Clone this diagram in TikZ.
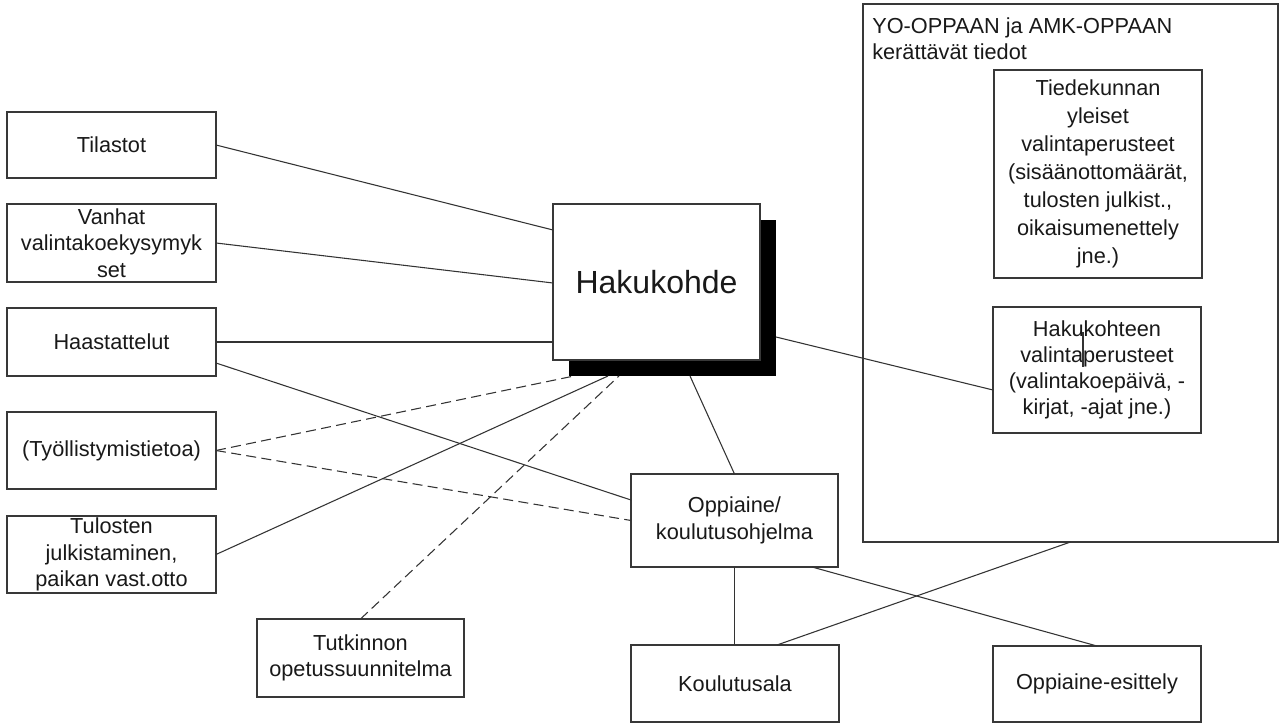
\documentclass[tikz,border=0pt]{standalone}
\usepackage{fontspec}
\setmainfont{Liberation Sans}
\usetikzlibrary{calc}
\begin{document}
\begin{tikzpicture}[x=0.75pt,y=-0.75pt,
  box/.style={draw=black!78, line width=1.1pt, fill=white, inner sep=0pt, outer sep=0pt,
    align=center, text=black!90, font=\fontsize{16.3}{20}\selectfont},
  wh/.style 2 args={minimum width=#1*0.75pt, minimum height=#2*0.75pt},
  conn/.style={draw=black!80, line width=0.8pt},
  dconn/.style={conn, dash pattern=on 7.5pt off 4pt}]
\useasboundingbox[fill=white] (0,0) rectangle (1281,723);

% container
\node[box, wh={415}{538}] (big) at (1070.5,273) {};
\node[anchor=north west, inner sep=0pt, align=left, text=black!90,
  font=\fontsize{16.3}{19.5}\selectfont] (title) at (872,17)
  {YO-OPPAAN ja AMK-OPPAAN\\kerättävät tiedot};
\node[box, wh={208}{208}, font=\fontsize{16.3}{21}\selectfont] (tiede) at (1098,174)
  {Tiedekunnan\\yleiset\\valintaperusteet\\(sisäänottomäärät,\\tulosten julkist.,\\oikaisumenettely\\jne.)};
\node[box, wh={208}{126}, font=\fontsize{16.3}{19.5}\selectfont] (hkt) at (1097,370)
  {Hakukohteen\\valintaperusteet\\(valintakoepäivä, -\\kirjat, -ajat jne.)};
\coordinate (tick) at ($(hkt.center)+(-14,-38)$);
\draw[conn] (tick) -- ++(0,35);

% left column
\node[box, wh={209}{66}] (tilastot) at (111.5,145) {Tilastot};
\node[box, wh={209}{78}] (vanhat) at (111.5,243) {Vanhat\\valintakoekysymyk\\set};
\node[box, wh={209}{68}] (haast) at (111.5,342) {Haastattelut};
\node[box, wh={209}{77}] (tyol) at (111.5,450.5) {(Työllistymistietoa)};
\node[box, wh={209}{77}] (tulos) at (111.5,554.5) {Tulosten\\julkistaminen,\\paikan vast.otto};
\node[box, wh={207}{78}] (tutk) at (360.5,658) {Tutkinnon\\opetussuunnitelma};

% centre
\node[fill=black, inner sep=0pt, outer sep=0pt, wh={207}{156}] (hshadow) at (672.5,298) {};
\node[box, wh={207}{156}, font=\fontsize{24}{28}\selectfont] (hak) at (656.5,282) {Hakukohde};
\node[box, wh={207}{93}] (opp) at (734.5,520.5) {Oppiaine/\\koulutusohjelma};
\node[box, wh={208}{77}] (kou) at (735,683.5) {Koulutusala};
\node[box, wh={208}{76}] (esit) at (1097,684) {Oppiaine-esittely};

% connectors
\draw[conn] (tilastot.east) -- ($(hak.west)+(0,-52)$);
\draw[conn] (vanhat.east) -- ($(hak.west)+(0,1)$);
\draw[conn] (haast.east) -- ($(hak.west)+(0,60)$);
\draw[conn] ($(haast.east)+(0,21)$) -- ($(opp.west)+(0,-20.5)$);
\draw[dconn] (tyol.east) -- ($(hshadow.south west)+(5,0)$);
\draw[dconn] (tyol.east) -- (opp.west);
\draw[conn] (tulos.east) -- ($(hshadow.south west)+(39,0)$);
\draw[dconn] (tutk.north) -- ($(hshadow.south west)+(50,0)$);
\draw[conn] ($(hshadow.south)+(17.5,0)$) -- (opp.north);
\draw[conn] ($(hshadow.east)+(0,39)$) -- ($(hkt.west)+(0,20)$);
\draw[conn] (opp.south) -- (opp.south |- kou.north);
\draw[conn] ($(opp.south east)+(-26,0)$) -- (esit.north);
\draw[conn] (big.south) -- ($(kou.north)+(42,0)$);
\end{tikzpicture}
\end{document}
